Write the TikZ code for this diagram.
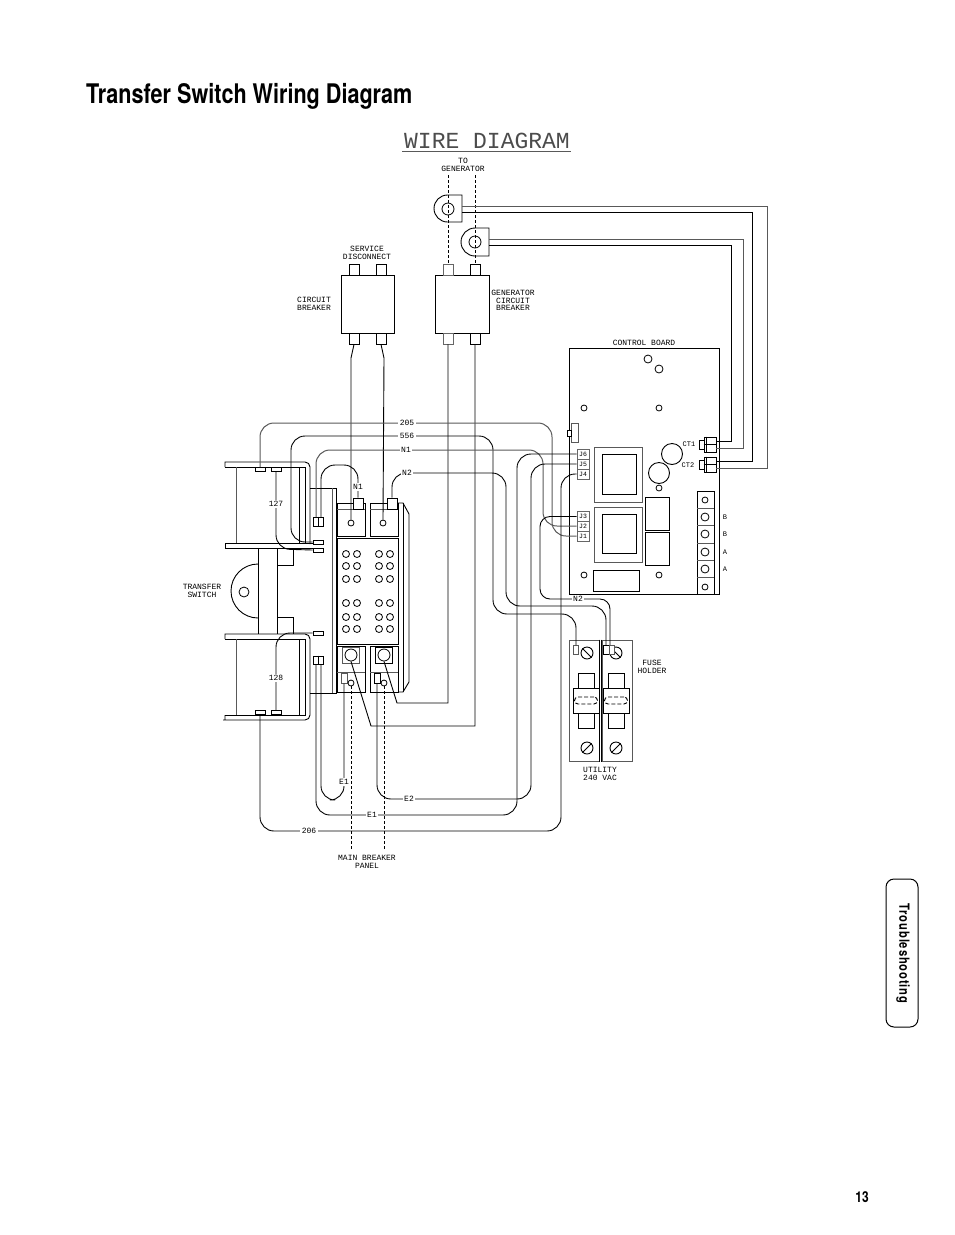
\documentclass[tikz,border=0pt]{standalone}
\usepackage{fontspec}
\usetikzlibrary{positioning}
\newfontfamily\headfont[FakeStretch=0.8]{TeX Gyre Heros}
\newfontfamily\platefont{Liberation Mono}
\newcommand{\plate}{\fontsize{8}{7.8}\selectfont\platefont}

\begin{document}
\begin{tikzpicture}[
  x=1pt, y=-1pt,
  wire/.style={line width=0.9pt, rounded corners=14pt},
  greywire/.style={wire, black!65, line width=1pt},
  lead/.style={line width=0.9pt},
  frame/.style={line width=0.9pt},
  greyframe/.style={line width=1pt, black!65},
  dashwire/.style={line width=0.9pt, dash pattern=on 3pt off 2pt},
  lbl/.style={font=\plate, inner sep=1pt, align=center},
  tag/.style={lbl, fill=white, inner sep=1.5pt},
  tinylbl/.style={lbl, font=\fontsize{7}{7}\selectfont\platefont},
  tabbox/.style={draw, fill=white, minimum width=10pt, minimum height=4pt, inner sep=0pt, line width=0.8pt},
  lug/.style={tabbox, minimum height=11pt},
  jack/.style={draw=black!60, fill=white, minimum width=12pt, minimum height=10pt, inner sep=0pt,
               line width=0.8pt, font=\fontsize{6.5}{7}\selectfont\platefont},
  hole/.style={draw, circle, fill=white, minimum size=6pt, inner sep=0pt, line width=0.8pt},
  dot/.style={hole, minimum size=7pt},
  bighole/.style={hole, minimum size=8pt},
  screw/.style={draw, circle, fill=white, minimum size=12pt, inner sep=0pt, line width=0.9pt}
]
\useasboundingbox (0,0) rectangle (954,1235);

\node[font=\headfont\bfseries\fontsize{27}{27}\selectfont, anchor=base west, inner sep=0pt] (title) at (86,103) {Transfer Switch Wiring Diagram};
\node[font=\fontsize{23}{23}\selectfont\platefont, text=black!70, anchor=base, inner sep=0pt] (heading) at (487,148) {WIRE DIAGRAM};
\coordinate (ruleL) at (402,151);
\coordinate (ruleR) at (571,151);
\draw[greyframe] (ruleL) -- (ruleR);

% current transformers
\draw[frame] (462,195) [rounded corners=13.5pt] -- (434,195) -- (434,222) [sharp corners] -- (462,222) -- cycle;
\draw[frame] (489,228) [rounded corners=14pt] -- (461,228) -- (461,256) [sharp corners] -- (489,256) -- cycle;
\node[hole, minimum size=12pt] (ringA) at (448,209) {};
\node[hole, minimum size=12pt] (ringB) at (475,242) {};

% breakers
\node[draw, frame, minimum width=53pt, minimum height=58pt, inner sep=0pt] (svcbrk) at (367.5,304) {};
\node[draw, frame, minimum width=54pt, minimum height=58pt, inner sep=0pt] (genbrk) at (462,304) {};
\node[lug] (svcA) at (354,269.5) {};
\node[lug] (svcB) at (381,269.5) {};
\node[lug] (svcC) at (354,338.5) {};
\node[lug] (svcD) at (381,338.5) {};
\node[lug, draw=black!60] (genA) at (448,269.5) {};
\node[lug] (genB) at (475,269.5) {};
\node[lug, draw=black!60] (genC) at (448,338.5) {};
\node[lug] (genD) at (475,338.5) {};
\coordinate (togenA) at (448,175);
\coordinate (togenB) at (475,175);
\draw[dashwire] (togenA) -- (genA.north);
\draw[dashwire] (togenB) -- (genB.north);

% control board
\node[draw, frame, minimum width=150pt, minimum height=246pt, inner sep=0pt] (board) at (644,471) {};
\node[lbl, above=1pt of board] (boardlbl) {CONTROL BOARD};
\foreach \nm/\px/\py in {hA/648/359,hB/659/369}
  \node[hole, minimum size=8pt] (\nm) at (\px,\py) {};
\foreach \nm/\px/\py in {hC/584/408,hD/659/408,hE/659/488,hF/584/575,hG/659/575}
  \node[hole] (\nm) at (\px,\py) {};
\node[draw, greyframe, fill=white, minimum width=7pt, minimum height=19pt, inner sep=0pt] (hdr) at (574.5,432.5) {};
\node[draw, lead, fill=white, minimum width=4pt, minimum height=6pt, inner sep=0pt] (hdrpin) at (569,433) {};
\node[draw, greyframe, minimum width=48pt, minimum height=55pt, inner sep=0pt] (xfA) at (618,474.5) {};
\node[draw, frame, minimum width=34pt, minimum height=40pt, inner sep=0pt] (coreA) at (619,474) {};
\node[draw, greyframe, minimum width=48pt, minimum height=55pt, inner sep=0pt] (xfB) at (618,534.5) {};
\node[draw, frame, minimum width=34pt, minimum height=39pt, inner sep=0pt] (coreB) at (619,533.5) {};
\node[draw, frame, minimum width=24pt, minimum height=33pt, inner sep=0pt] (relA) at (657,513.5) {};
\node[draw, frame, minimum width=24pt, minimum height=33pt, inner sep=0pt] (relB) at (657,548.5) {};
\node[draw, frame, minimum width=46pt, minimum height=21pt, inner sep=0pt] (relC) at (616,580.5) {};
\node[draw, circle, lead, minimum size=21pt, inner sep=0pt] (capA) at (672,454) {};
\node[draw, circle, lead, fill=white, minimum size=21pt, inner sep=0pt] (capB) at (659,473) {};

% terminal strip
\node[draw, frame, minimum width=17pt, minimum height=103pt, inner sep=0pt] (strip) at (705.5,542.5) {};
\foreach \py in {508,525,543,560,577}
  \draw[greyframe] (697,\py) -- (714,\py);
\node[hole] (stA) at (705,500) {};
\node[bighole] (stB) at (705,517) {};
\node[bighole] (stC) at (705,534) {};
\node[bighole] (stD) at (705,552) {};
\node[bighole] (stE) at (705,569) {};
\node[hole] (stF) at (705,587) {};
\foreach \nm/\py/\txt in {lblA/517/B,lblB/534/B,lblC/552/A,lblD/569/A}
  \node[tinylbl] (\nm) at (725,\py) {\txt};

% jacks
\foreach \nm/\py in {J6/454,J5/464,J4/474,J3/516.5,J2/526,J1/536}
  \node[jack] (\nm) at (583,\py) {\nm};

% ct plugs
\foreach \nm/\py in {ctA/444.5,ctB/464.5} {
  \node[draw, lead, fill=white, minimum width=12pt, minimum height=15pt, inner sep=0pt] (\nm) at (710,\py) {};
  \node[draw, lead, minimum width=5pt, minimum height=9pt, inner sep=0pt] (\nm pin) at (701.5,\py) {};
  \draw[lead] (\nm.west) -- (\nm.east);
  \draw[lead] ([xshift=3pt]\nm.north west) -- ([xshift=3pt]\nm.south west);
}
\coordinate (ctAup) at (716,441);
\coordinate (ctAdn) at (716,448);
\coordinate (ctBup) at (716,461);
\coordinate (ctBdn) at (716,468);
\node[tinylbl] (ctAlbl) at (689,444) {CT1};
\node[tinylbl] (ctBlbl) at (688,465) {CT2};
\draw[lead] (462,212) -- (752,212) -- (752,461) -- (ctBup);
\draw[greyframe] (462,206) -- (767,206) -- (767,468) -- (ctBdn);
\draw[lead] (489,245) -- (731,245) -- (731,441) -- (ctAup);
\draw[greyframe] (489,239) -- (743,239) -- (743,448) -- (ctAdn);

% transfer switch coils
\draw[frame] (225,467) -- (225,462) -- (304,462) [rounded corners=5pt] -- (310,462) -- (310,544);
\draw[frame] (225,467) -- (305,467) -- (305,543);
\draw[frame] (225,548) -- (225,543) -- (313,543);
\draw[frame] (225,548) -- (313,548);
\draw[greyframe] (236,467) -- (236,543);
\draw[frame] (299,467) -- (299,543);
\draw[frame] (258,548) -- (258,634);
\draw[frame] (277,548) -- (277,634);
\draw[frame] (277,565) -- (293,565) -- (293,548);
\draw[frame] (277,617) -- (293,617) -- (293,634);
\draw[frame] (258,564) [rounded corners=27pt] -- (231,564) -- (231,618) [sharp corners] -- (258,618);
\node[hole, minimum size=10pt] (pivot) at (244,592) {};
\draw[frame] (225,639) -- (225,634) -- (300,634) [rounded corners=5pt] -- (310,634) -- (310,720) -- (228,720) [sharp corners] -- (225,720) -- (225,715);
\draw[frame] (225,639) -- (305,639) -- (305,715) -- (225,715);
\draw[greyframe] (236,639) -- (236,715);
\draw[frame] (299,639) -- (299,715);

% centre block
\draw[frame] (310,488) -- (336,488) -- (336,693) -- (310,693);
\draw[greyframe] (332,488) -- (332,693);
\node[draw, frame, minimum width=28pt, minimum height=33pt, inner sep=0pt] (poleA) at (351,519.5) {};
\node[draw, frame, minimum width=28pt, minimum height=33pt, inner sep=0pt] (poleB) at (384,519.5) {};
\draw[greyframe] (337,509) -- (365,509);
\draw[greyframe] (370,509) -- (398,509);
\draw[frame] (398,503) -- (403,503) -- (409,514) -- (409,682) -- (403,692) -- (398,692);
\draw[frame] (403,503) -- (403,692);
\node[draw, frame, minimum width=61pt, minimum height=106pt, inner sep=0pt] (contacts) at (367.5,591) {};
\foreach \py in {554,566,579,603,617,629}
  \foreach \px in {346,357,379,390}
    \node[dot] at (\px,\py) {};
\node[draw, frame, minimum width=28pt, minimum height=46pt, inner sep=0pt] (poleC) at (351,669) {};
\node[draw, frame, minimum width=28pt, minimum height=46pt, inner sep=0pt] (poleD) at (384,669) {};
\draw[greyframe] (337,672) -- (365,672);
\draw[greyframe] (370,672) -- (398,672);
\node[draw, greyframe, minimum size=16.5pt, inner sep=0pt] (seatC) at (351,655.5) {};
\node[draw, frame, minimum size=16.5pt, inner sep=0pt] (seatD) at (384,655.5) {};
\node[hole, minimum size=12pt] (lugC) at (351,655) {};
\node[hole, minimum size=12pt] (lugD) at (384,655) {};
\node[hole] (lugA) at (351,523) {};
\node[hole] (lugB) at (383,523) {};
\node[draw, greyframe, fill=white, minimum width=6pt, minimum height=10pt, inner sep=0pt] (stubC) at (344,678) {};
\node[draw, frame, fill=white, minimum width=6pt, minimum height=10pt, inner sep=0pt] (stubD) at (377,678) {};
\node[hole] (lugE) at (351,683) {};
\node[hole] (lugF) at (384,683) {};
\node[draw, frame, fill=white, minimum width=10pt, minimum height=11pt, inner sep=0pt] (topN1) at (358,503.5) {};
\node[draw, frame, fill=white, minimum width=10pt, minimum height=11pt, inner sep=0pt] (topN2) at (392,503.5) {};

% coil tabs
\node[tabbox] (tab205) at (260,469.5) {};
\node[tabbox] (tab127) at (276,469.5) {};
\node[tabbox] (tab206) at (260,712.5) {};
\node[tabbox] (tab128) at (276,712.5) {};
\node[tabbox] (tab556) at (318,542) {};
\node[tabbox] (tab127b) at (318,550) {};
\node[tabbox] (tab128b) at (318,633) {};
\node[draw, lead, fill=white, minimum width=10pt, minimum height=9pt, inner sep=0pt] (plugU) at (318,521.5) {};
\node[draw, lead, fill=white, minimum width=10pt, minimum height=8pt, inner sep=0pt] (plugL) at (318,660) {};
\draw[lead] (plugU.north) -- (plugU.south);
\draw[lead] (plugL.north) -- (plugL.south);
\coordinate (plugUa) at (316,517);
\coordinate (plugUb) at (321,517);
\coordinate (plugLa) at (316,664);
\coordinate (plugLb) at (321,664);

% fuse holder
\node[draw, greyframe, minimum width=30pt, minimum height=121pt, inner sep=0pt] (fuseL) at (584,700.5) {};
\node[draw, greyframe, minimum width=30pt, minimum height=121pt, inner sep=0pt] (fuseR) at (617,700.5) {};
\draw[frame] (fuseL.north east) -- (fuseL.south east);
\draw[frame] (fuseR.north west) -- (fuseR.south west);
\node[screw] (scrA) at (587,653) {};
\node[screw] (scrB) at (616,653) {};
\node[screw] (scrC) at (587,748) {};
\node[screw] (scrD) at (616,748) {};
\draw[frame] (scrA.north west) -- (scrA.south east);
\draw[frame] (scrB.north west) -- (scrB.south east);
\draw[frame] (scrC.north east) -- (scrC.south west);
\draw[frame] (scrD.north east) -- (scrD.south west);
\node[draw, greyframe, fill=white, minimum width=5pt, minimum height=9pt, inner sep=0pt] (pinA) at (575.5,649.5) {};
\node[draw, frame, fill=white, minimum width=6pt, minimum height=9pt, inner sep=0pt] (pinB) at (606,649.5) {};
\node[draw, greyframe, fill=white, minimum width=5pt, minimum height=9pt, inner sep=0pt] (pinC) at (612,649.5) {};
\foreach \nm/\px in {lnkA/586,lnkB/616} {
  \node[draw, frame, minimum width=16pt, minimum height=55pt, inner sep=0pt] (\nm) at (\px,700.5) {};
  \node[draw, frame, fill=white, minimum width=26pt, minimum height=25pt, inner sep=0pt] (\nm clip) at (\px,700.5) {};
  \node[draw, frame, dash pattern=on 4pt off 2pt, rounded corners=3.5pt, minimum width=23pt, minimum height=7pt, inner sep=0pt] (\nm oval) at (\px,700.5) {};
}

% wiring
\draw[lead] (svcC.south) -- (351,358) -- (lugA.north);
\draw[lead] (svcD.south) -- (384,358) -- (lugB.north);
\draw[lead] (genC.south) -- (448,703) -- (397,703) -- (lugD.south);
\draw[lead] (genD.south) -- (475,726) -- (371,726) -- (lugC.south);
\draw[dashwire] (lugE.south) -- (351,850);
\draw[dashwire] (lugF.south) -- (384,850);
\draw[greywire] (tab205.north) -- (260,423) -- (552,423) -- (552,536) [rounded corners=4pt] -- (J1.west);
\draw[wire] (tab556.west) -- (291,542) -- (291,436) -- (493,436) -- (493,614) -- (576,614) -- (576,645);
\draw[greywire] (plugUa) -- (316,450) -- (543,450) -- (543,526) [rounded corners=4pt] -- (J2.west);
\draw[wire] (plugUb) -- (321,465) -- (358,465) -- (topN1.north);
\draw[wire] (topN2.north) -- (392,473) -- (506,473) -- (506,606) -- (606,606) -- (606,645);
\draw[wire, rounded corners=10pt] (J3.west) -- (540,516.5) -- (540,599) -- (610,599) -- (610,645);
\draw[wire] (J6.west) -- (517,454) -- (517,815) -- (316,815) -- (plugLa);
\draw[wire] (J5.west) -- (531,464) -- (531,799) -- (377,799) -- (stubD.south);
\draw[wire] (J4.west) -- (561,474) -- (561,831) -- (260,831) -- (tab206.south);
\draw[wire] (plugLb) -- (321,800) -- (344,800) -- (stubC.south);
\draw[wire] (tab127.south) -- (276,549) -- (tab127b.west);
\draw[wire] (tab128.north) -- (276,633) -- (tab128b.west);

% wire labels
\node[tag] (w205) at (407,423) {205};
\node[tag] (w556) at (407,436) {556};
\node[tag] (wN1) at (406,450) {N1};
\node[tag] (wN2) at (407,473) {N2};
\node[tag] (wN1b) at (358,487) {N1};
\node[tag] (w127) at (276,504) {127};
\node[tag] (w128) at (276,678) {128};
\node[tag] (wE1a) at (344,782) {E1};
\node[tag] (wE2) at (409,799) {E2};
\node[tag] (wE1b) at (372,815) {E1};
\node[tag] (w206) at (309,831) {206};
\node[tag] (wN2b) at (578,599) {N2};

% part labels
\node[lbl] (togen) at (463,165) {TO\\GENERATOR};
\node[lbl] (svc) at (367,253) {SERVICE\\DISCONNECT};
\node[lbl] (cb) at (314,304) {CIRCUIT\\BREAKER};
\node[lbl] (gcb) at (513,300.5) {GENERATOR\\CIRCUIT\\BREAKER};
\node[lbl] (xfer) at (202,591) {TRANSFER\\SWITCH};
\node[lbl] (mbp) at (367,862) {MAIN BREAKER\\PANEL};
\node[lbl] (fh) at (652,667) {FUSE\\HOLDER};
\node[lbl] (util) at (600,774) {UTILITY\\240 VAC};

% page furniture
\node[draw, line width=1pt, rounded corners=8pt, minimum width=32pt, minimum height=148pt, inner sep=0pt] (thumb) at (902,953) {};
\node[font=\headfont\bfseries\fontsize{14}{14}\selectfont, rotate=-90, inner sep=0pt] (thumbtxt) at (903,953.5) {\addfontfeature{LetterSpace=6}Troubleshooting};
\node[font=\headfont\bfseries\fontsize{15}{15}\selectfont, inner sep=0pt] (pageno) at (862,1197) {13};
\end{tikzpicture}
\end{document}
